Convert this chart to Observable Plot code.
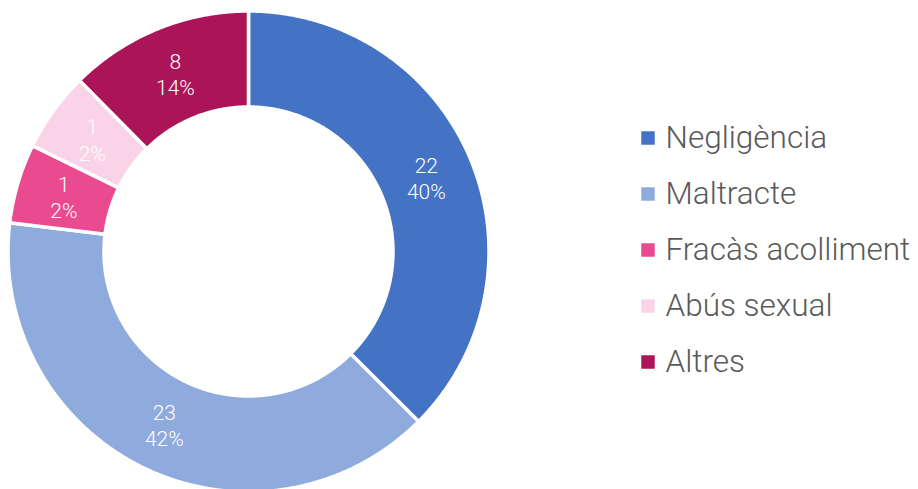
<!DOCTYPE html>
<html>
<head>
<meta charset="utf-8">
<script src="https://cdn.jsdelivr.net/npm/d3@7"></script>
<script src="https://cdn.jsdelivr.net/npm/@observablehq/plot@0.6"></script>
<style>
  html, body { margin: 0; padding: 0; background: #fff; }
  #chart svg { display: block; }
</style>
</head>
<body>
<div id="chart"></div>
<script>
// ---- data ----
const categories = ["Negligència", "Maltracte", "Fracàs acolliment", "Abús sexual", "Altres"];
// slice shares (%) as drawn in the reference (angles)
const sliceShares = [37.5, 39.4, 5.35, 5.35, 12.4];
// value labels printed on the slices
const countLabels = ["22", "23", "1", "1", "8"];
const percentLabels = ["40%", "42%", "2%", "2%", "14%"];
const colors = ["#4472C4", "#8FAADC", "#EA4A8F", "#FAD4E6", "#AB1558"];

// ---- layout ----
const W = 918, H = 489;
const cx = 248, cy = 251, R = 240.5, r0 = 144.5;
const labelR = (R + r0) / 2;
const legendX = 647.5, legendY0 = 137.5, legendStep = 56;

const pie = d3.pie().sort(null).value(d => d.value);
const rows = categories.map((name, i) => ({
  name, value: sliceShares[i], count: countLabels[i], pct: percentLabels[i], color: colors[i], i
}));
const arcs = pie(rows);

// polygon points for each ring segment
const pts = [];
for (const a of arcs) {
  const n = Math.max(8, Math.ceil((a.endAngle - a.startAngle) / 0.005));
  for (let k = 0; k <= n; k++) {
    const t = a.startAngle + (a.endAngle - a.startAngle) * k / n;
    pts.push({name: a.data.name, x: cx + R * Math.sin(t), y: cy - R * Math.cos(t)});
  }
  for (let k = n; k >= 0; k--) {
    const t = a.startAngle + (a.endAngle - a.startAngle) * k / n;
    pts.push({name: a.data.name, x: cx + r0 * Math.sin(t), y: cy - r0 * Math.cos(t)});
  }
}

const labels = arcs.map(a => {
  const t = (a.startAngle + a.endAngle) / 2;
  return {name: a.data.name, text: a.data.count + "\n" + a.data.pct,
          x: cx + labelR * Math.sin(t), y: cy - labelR * Math.cos(t)};
});

const legend = rows.map((d, i) => ({name: d.name, x: legendX, y: legendY0 + i * legendStep}));

const chart = Plot.plot({
  width: W, height: H,
  margin: 0,
  style: {background: "#fff", fontFamily: "Roboto, 'Noto Sans', sans-serif"},
  x: {domain: [0, W], range: [0, W], axis: null},
  y: {domain: [0, H], range: [0, H], axis: null},
  color: {domain: categories, range: colors},
  marks: [
    Plot.line(pts, {x: "x", y: "y", z: "name", fill: "name", stroke: "#fff", strokeWidth: 3.5, curve: "linear-closed"}),
    Plot.text(labels, {x: "x", y: "y", text: "text", fill: "#fff", fontSize: 21, fontWeight: 300, lineHeight: 1.25}),
    Plot.dot(legend, {x: "x", y: "y", fill: "name", symbol: "square", r: 7.6, stroke: null}),
    Plot.text(legend, {x: d => d.x + 17.5, y: "y", text: "name", textAnchor: "start", fill: "#595959", fontSize: 31.5, fontWeight: 300})
  ]
});
document.getElementById("chart").appendChild(chart);
</script>
</body>
</html>
